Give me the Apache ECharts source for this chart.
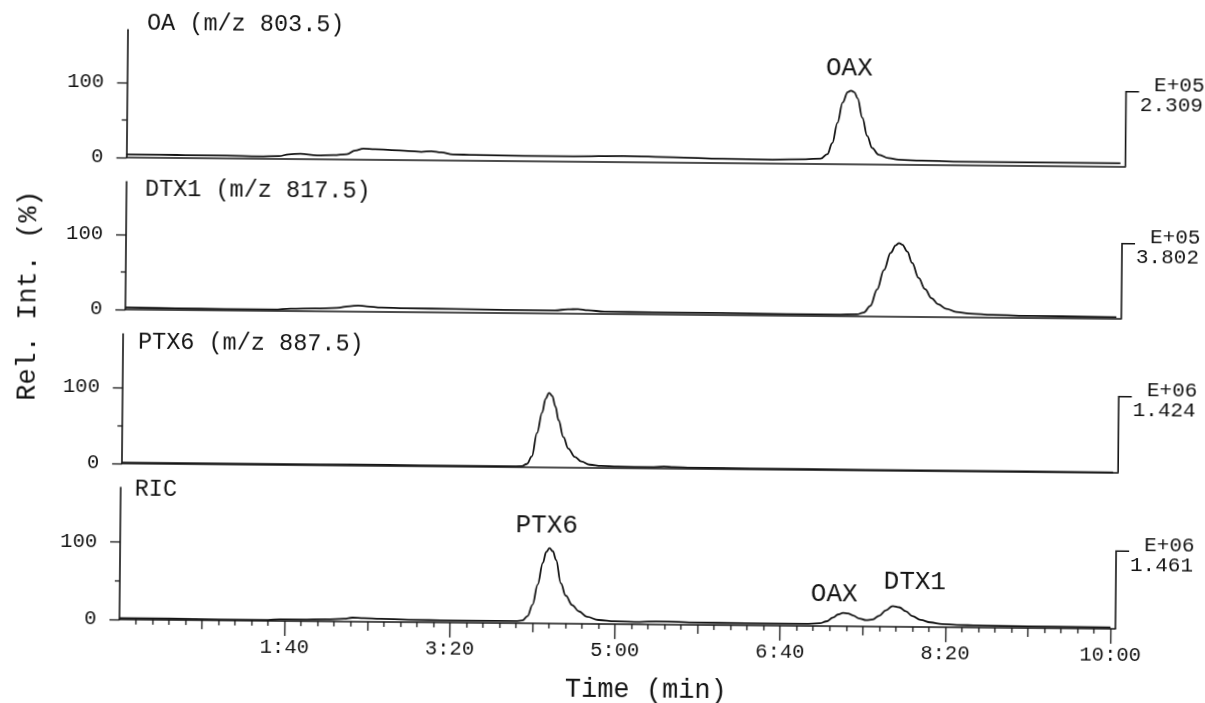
<!DOCTYPE html>
<html>
<head>
<meta charset="utf-8">
<script src="https://cdn.jsdelivr.net/npm/echarts@6/dist/echarts.min.js"></script>
<style>
html, body { margin: 0; padding: 0; background: #fff; overflow: hidden; }
/* the scanned original sits slightly skewed on the page */
#chart { width: 1205px; height: 703px; transform: rotate(0.54deg); }
</style>
</head>
<body>
<div id="chart"></div>
<script>
// ---- data (time in s, relative intensity in %) ----
const oaTime = [0, 20, 40, 60, 80, 92, 98, 105, 115, 125, 133, 138, 143, 150, 160, 170, 178, 184, 190, 197, 210, 240, 270, 300, 330, 360, 390, 410, 419, 423, 426, 429, 432, 435, 437, 439, 441, 444, 447, 450, 454, 460, 466, 480, 510, 550, 600];
const oaInt = [4, 4, 3.5, 3.5, 3, 3.5, 6, 7, 5, 5.5, 7, 12, 14.5, 14, 13, 12, 11, 12, 10.5, 8, 7.5, 7, 7, 8, 7, 5.5, 5, 6, 7, 13, 28, 55, 82, 96, 98, 96, 88, 62, 38, 22, 13, 8.5, 6.5, 5.5, 4.5, 4.5, 4.5];

const dtxTime = [0, 30, 60, 90, 100, 115, 128, 136, 141, 146, 155, 170, 200, 230, 260, 268, 274, 280, 290, 320, 360, 400, 430, 443, 447, 451, 455, 459, 463, 466, 468, 470, 473, 476, 480, 484, 488, 492, 497, 503, 511, 525, 550, 600];
const dtxInt = [2.5, 2, 1.5, 1.5, 3, 3.5, 4.5, 7, 8, 7, 5.5, 5, 4.5, 4, 4, 5.5, 6, 4.5, 3, 2.5, 2.5, 2, 2, 2.5, 5, 14, 36, 62, 85, 95, 98, 96, 87, 72, 52, 37, 25, 17, 11, 7, 5, 3.5, 2.5, 2];

const ptxTime = [0, 40, 80, 120, 160, 200, 235, 242, 245, 248, 251, 254, 256, 258, 260, 262, 264, 267, 270, 274, 278, 283, 290, 300, 320, 328, 334, 345, 380, 450, 520, 600];
const ptxInt = [1, 1, 0.8, 1, 1.2, 0.8, 0.8, 1.2, 4, 14, 45, 72, 90, 98, 94, 80, 62, 40, 25, 14, 8, 4, 2.5, 1.8, 1.5, 2.5, 1.8, 1.2, 1, 0.6, 0.5, 0.3];

const ricTime = [0, 30, 60, 90, 97, 110, 125, 136, 141, 148, 158, 175, 200, 225, 240, 244, 247, 250, 253, 256, 258, 260, 262, 264, 267, 270, 274, 278, 283, 290, 300, 315, 325, 332, 345, 380, 415, 424, 428, 432, 435, 438, 441, 444, 448, 452, 456, 460, 464, 468, 472, 476, 480, 485, 491, 498, 507, 520, 550, 600];
const ricInt = [1.5, 1.5, 1, 1, 2, 2, 2.5, 3.5, 5, 4.5, 4, 3, 2.5, 2.5, 2.5, 3.5, 9, 24, 50, 78, 92, 97, 93, 82, 52, 36, 24, 16, 9, 5, 3.5, 3, 4, 4, 3, 2.5, 2.5, 3.5, 6, 11, 15, 17, 16.5, 14, 10, 8, 9, 14, 21, 26.5, 25, 20, 14, 9, 6, 4, 3, 2.5, 2, 1.5];

const panelTitles = ["OA (m/z 803.5)", "DTX1 (m/z 817.5)", "PTX6 (m/z 887.5)", "RIC"];
const scaleExp = ["E+05", "E+05", "E+06", "E+06"];
const scaleVal = ["2.309", "3.802", "1.424", "1.461"];
const peakNames = [["OAX"], [], [], ["PTX6", "OAX", "DTX1"]];
const peakTimes = [[437], [], [], [260, 438, 468]];

const timeTicks = [100, 200, 300, 400, 500, 600];
const timeLabels = ["1:40", "3:20", "5:00", "6:40", "8:20", "10:00"];
const midTimeTicks = [50, 150, 250, 350, 450, 550];
const intTicks = [0, 100];
const midIntTicks = [50];

// ---- layout ----
const FONT = '"Liberation Mono", "DejaVu Sans Mono", monospace';
const INK = "#141414";
const X_MAX = 603;
const Y_MAX = 170;
const gridBoxes = [
  { left: 124.6, top: 34.3, width: 999, height: 127.5 },
  { left: 125, top: 186.3, width: 996, height: 127.5 },
  { left: 123.2, top: 338.6, width: 996, height: 129.2 },
  { left: 122, top: 492, width: 996, height: 131.9 }
];
const titlePos = [[144, 28], [143.5, 194], [138, 347], [136, 494]];
const peakLabelOffset = [[[-2, -22]], [], [], [[-3, -23], [-9, -19], [22, -24]]];

const traces = [
  { time: oaTime, value: oaInt },
  { time: dtxTime, value: dtxInt },
  { time: ptxTime, value: ptxInt },
  { time: ricTime, value: ricInt }
];

let minorTimeTicks = [];
for (let t = 10; t < 600; t += 10) {
  if (t % 50 !== 0) minorTimeTicks.push(t);
}

function valueAt(tr, t) {
  return tr.value[tr.time.indexOf(t)];
}

const lineStyle = { color: INK, width: 1.8 };
const axisStyle = { color: INK, width: 1.6 };
const tickStyle = { color: INK, width: 1.3 };

let xAxes = gridBoxes.map((b, i) => ({
  type: "value",
  gridIndex: i,
  position: "bottom",
  min: 0,
  max: X_MAX,
  axisLine: { show: true, onZero: false, lineStyle: axisStyle },
  axisTick: i === 3
    ? { show: true, customValues: timeTicks, length: 15, lineStyle: tickStyle }
    : { show: false },
  axisLabel: i === 3
    ? {
        show: true,
        customValues: timeTicks,
        margin: 16,
        fontFamily: FONT,
        fontSize: 20.5,
        color: INK,
        formatter: v => timeLabels[timeTicks.indexOf(v)]
      }
    : { show: false },
  splitLine: { show: false }
}));
// extra tick rows on the time axis of the RIC panel
[[midTimeTicks, 9], [minorTimeTicks, 5]].forEach(([vals, len]) => {
  xAxes.push({
    type: "value",
    gridIndex: 3,
    position: "bottom",
    min: 0,
    max: X_MAX,
    axisLine: { show: false },
    axisTick: { show: true, customValues: vals, length: len, lineStyle: tickStyle },
    axisLabel: { show: false },
    splitLine: { show: false }
  });
});

let yAxes = gridBoxes.map((b, i) => ({
  type: "value",
  gridIndex: i,
  position: "left",
  min: 0,
  max: Y_MAX,
  axisLine: { show: true, onZero: false, lineStyle: axisStyle },
  axisTick: { show: true, customValues: intTicks, length: 10, lineStyle: tickStyle },
  axisLabel: {
    show: true,
    customValues: intTicks,
    margin: 23,
    fontFamily: FONT,
    fontSize: 20.5,
    color: INK
  },
  splitLine: { show: false }
}));
gridBoxes.forEach((b, i) => {
  yAxes.push({
    type: "value",
    gridIndex: i,
    position: "left",
    min: 0,
    max: Y_MAX,
    axisLine: { show: false },
    axisTick: { show: true, customValues: midIntTicks, length: 5, lineStyle: tickStyle },
    axisLabel: { show: false },
    splitLine: { show: false }
  });
});

const series = traces.map((tr, i) => ({
  type: "line",
  xAxisIndex: i,
  yAxisIndex: i,
  data: tr.time.map((t, k) => [t, tr.value[k]]),
  symbol: "none",
  showSymbol: false,
  smooth: 0.4,
  smoothMonotone: "x",
  silent: true,
  lineStyle: lineStyle,
  markPoint: {
    symbol: "circle",
    symbolSize: 1,
    silent: true,
    itemStyle: { color: "rgba(0,0,0,0)" },
    label: {
      show: true,
      position: "inside",
      fontFamily: FONT,
      fontSize: 26,
      color: INK
    },
    data: peakNames[i].map((name, k) => ({
      coord: [peakTimes[i][k], valueAt(tr, peakTimes[i][k])],
      label: { formatter: name, offset: peakLabelOffset[i][k] }
    }))
  }
}));

const chart = echarts.init(document.getElementById("chart"), null, { renderer: "canvas" });
chart.setOption({
  animation: false,
  backgroundColor: "#fff",
  grid: gridBoxes.map(b => ({
    left: b.left,
    top: b.top,
    width: b.width,
    height: b.height,
    containLabel: false,
    outerBoundsMode: "none"
  })),
  xAxis: xAxes,
  yAxis: yAxes,
  series: series
});

function textEl(x, y, text, size, align, extra) {
  return Object.assign({
    type: "text",
    x: x,
    y: y,
    silent: true,
    style: {
      text: text,
      font: size + "px " + FONT,
      fill: INK,
      align: align,
      textAlign: align,
      verticalAlign: "middle",
      textVerticalAlign: "middle"
    }
  }, extra || {});
}

let graphics = [];
panelTitles.forEach((t, i) => {
  graphics.push(textEl(titlePos[i][0], titlePos[i][1], t, 23.5, "left"));
});
graphics.push(textEl(27.5, 301, "Rel. Int. (%)", 27, "center", { rotation: Math.PI / 2 }));
graphics.push(textEl(649, 689.5, "Time (min)", 27, "center"));

// full-scale markers at the right end of each trace
scaleExp.forEach((exp, i) => {
  const p0 = chart.convertToPixel({ seriesIndex: i }, [X_MAX, 0]);
  const p1 = chart.convertToPixel({ seriesIndex: i }, [X_MAX, 100]);
  graphics.push({
    type: "polyline",
    silent: true,
    shape: { points: [p0, p1, [p1[0] + 13, p1[1]]] },
    style: { stroke: INK, lineWidth: 1.6, fill: null }
  });
  graphics.push(textEl(p1[0] + 28, p1[1] - 6, exp, 21, "left"));
  graphics.push(textEl(p1[0] + 14, p1[1] + 14, scaleVal[i], 21, "left"));
});

chart.setOption({ graphic: graphics });
</script>
</body>
</html>
